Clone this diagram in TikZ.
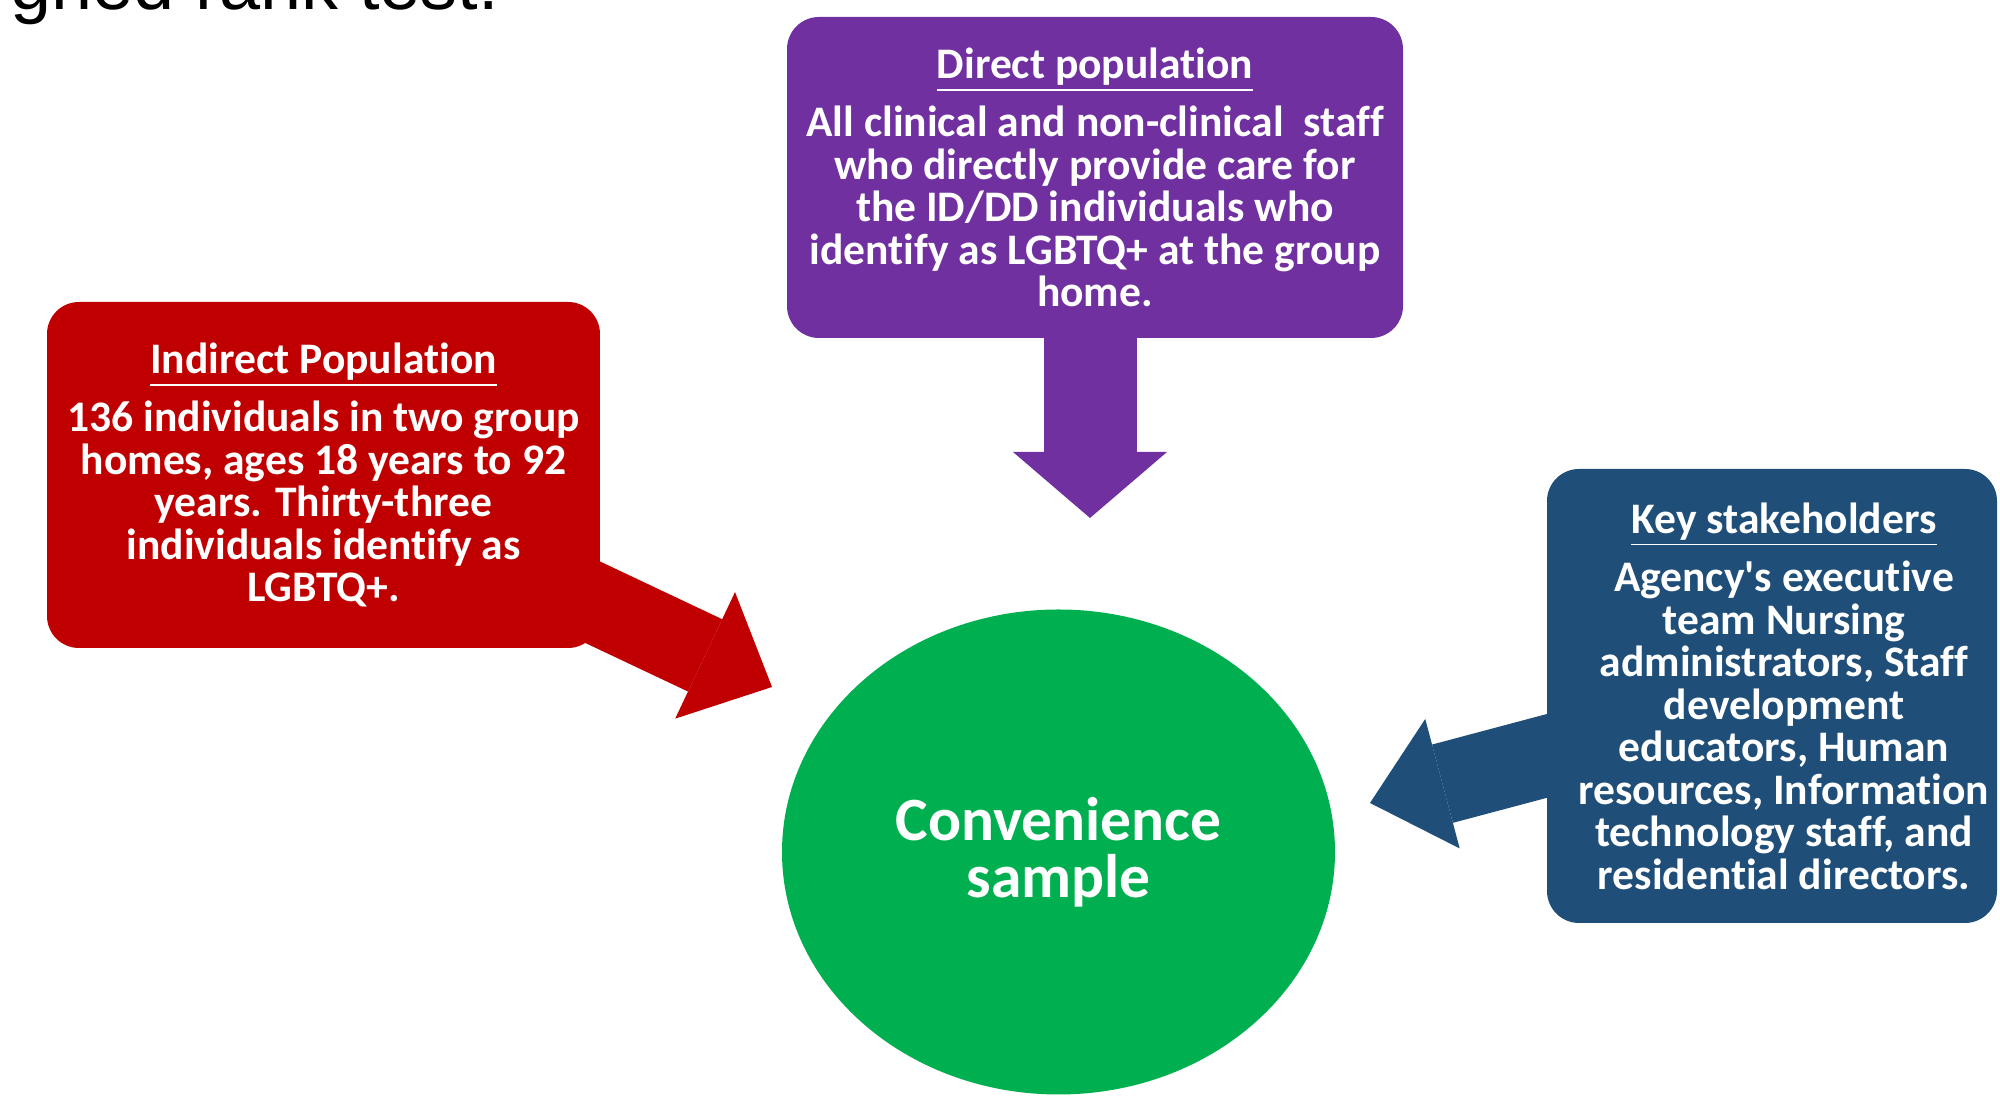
\documentclass[tikz,border=0pt]{standalone}
\usepackage{fontspec}
\setmainfont{Carlito}[Ligatures={TeX,NoCommon}]
\newfontfamily\slidefont{Liberation Sans}
\usepackage{tikz}
\usetikzlibrary{ arrows.meta,      % For the big block arrow heads
                 backgrounds,      % For hiding the arrows behind the boxes
                 shapes.geometric, % For the ellipse
               }
\definecolor{directpurple}{HTML}{7030A0}
\definecolor{indirectred}{HTML}{C00000}
\definecolor{keyblue}{HTML}{1F4E79}
\definecolor{samplegreen}{HTML}{00B050}

\begin{document}
\begin{tikzpicture}[x=0.1mm, y=-0.1mm,
    popbox/.style={rounded corners=3.2mm, text=white, align=center, inner sep=0pt,
                   font=\fontsize{12.4}{12.1}\selectfont\bfseries},
    blockarrow/.style n args={3}{line width=#1,
                   -{Triangle[length=#2, width=#3, line width=0pt]}},
  ] % coordinates are pixels of the slide
  \useasboundingbox (0,0) rectangle (2000,1097);

  \node[anchor=base west, font=\slidefont\fontsize{21}{25}\selectfont] (slide) at (-2,10) {gned rank test.};

  \node[popbox, fill=directpurple, minimum width=61.6mm, minimum height=32.1mm] (direct) at (1095,177.5)
    {\underline{Direct population}\\[3pt]
     All clinical and non-clinical\ \ staff\\
     who directly provide care for\\
     the ID/DD individuals who\\
     identify as LGBTQ+ at the group\\
     home.};
  \node[popbox, fill=indirectred, minimum width=55.3mm, minimum height=34.6mm] (indirect) at (323.5,475)
    {\underline{Indirect Population}\\[3pt]
     136 individuals in two group\\
     homes, ages 18 years to 92\\
     years. Thirty-three\\
     individuals identify as\\
     LGBTQ+.};
  \node[popbox, fill=keyblue, minimum width=45mm, minimum height=45.4mm] (key) at (1772,696)
    {\hspace*{2.4mm}\underline{Key stakeholders}\\[3pt]
     \hspace*{2.4mm}Agency\textquotesingle s executive\\
     \hspace*{2.4mm}team Nursing\\
     \hspace*{2.4mm}administrators, Staff\\
     \hspace*{2.4mm}development\\
     \hspace*{2.4mm}educators, Human\\
     \hspace*{2.4mm}resources, Information\\
     \hspace*{2.4mm}technology staff, and\\
     \hspace*{2.4mm}residential directors.};
  \node[ellipse, fill=samplegreen, minimum width=55.3mm, minimum height=48.5mm, inner sep=0pt,
        text=white, align=center, font=\fontsize{17.5}{16.2}\selectfont\bfseries] (sample) at (1058.5,852)
    {Convenience\\sample};

  \coordinate (directtip) at (1090,518);
  \coordinate (indirecttip) at (772,687);
  \coordinate (keytip) at (1370,803);

  \begin{scope}[on background layer]
    \draw[directpurple, blockarrow={9.3mm}{6.6mm}{15.4mm}] (directtip |- direct.center) -- (directtip);
    \draw[indirectred, blockarrow={8mm}{7.4mm}{14mm}] (indirect.center) -- (indirecttip);
    \draw[keyblue, blockarrow={8.1mm}{7.5mm}{13.4mm}] (key.center) -- (keytip);
  \end{scope}
\end{tikzpicture}
\end{document}
